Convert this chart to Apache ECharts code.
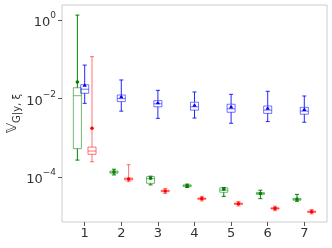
<!DOCTYPE html>
<html><head><meta charset="utf-8">
<script src="https://cdn.jsdelivr.net/npm/echarts@6/dist/echarts.min.js"></script>
<style>html,body{margin:0;padding:0;background:#fff}#c{width:332px;height:248px}</style>
</head><body><div id="c"></div>
<script>
// each row: [low whisker, q1, median, q3, high whisker, mean]
const categories = [1, 2, 3, 4, 5, 6, 7];
const yTicks = [1, 0.01, 0.0001];
const greenStats = [
  [2.7e-4, 5.3e-4, 0.0119, 0.019, 1.36, 0.0266],
  [1.13e-4, 1.25e-4, 1.33e-4, 1.42e-4, 1.58e-4, 1.34e-4],
  [6.3e-5, 6.9e-5, 9.0e-5, 1.02e-4, 1.05e-4, 9.3e-5],
  [5.4e-5, 5.7e-5, 6.0e-5, 6.3e-5, 6.6e-5, 6.0e-5],
  [3.2e-5, 4.07e-5, 4.6e-5, 5.3e-5, 5.4e-5, 4.9e-5],
  [2.8e-5, 3.6e-5, 3.8e-5, 4.0e-5, 4.6e-5, 3.8e-5],
  [2.4e-5, 2.55e-5, 2.7e-5, 2.85e-5, 3.6e-5, 2.7e-5]
];
const blueStats = [
  [0.0076, 0.0137, 0.0174, 0.0227, 0.072, 0.022],
  [0.0048, 0.0084, 0.0100, 0.0124, 0.030, 0.0112],
  [0.00315, 0.0062, 0.0074, 0.0089, 0.0163, 0.0079],
  [0.0032, 0.0051, 0.0062, 0.0081, 0.0148, 0.0068],
  [0.00235, 0.0045, 0.0055, 0.0072, 0.0129, 0.0062],
  [0.0026, 0.0042, 0.0051, 0.0065, 0.0154, 0.0057],
  [0.0025, 0.0040, 0.0048, 0.0060, 0.0117, 0.0053]
];
const redStats = [
  [2.45e-4, 3.8e-4, 4.6e-4, 5.8e-4, 0.118, 1.75e-3],
  [7.6e-5, 8.4e-5, 8.9e-5, 9.4e-5, 2.06e-4, 8.9e-5],
  [3.8e-5, 4.2e-5, 4.4e-5, 4.6e-5, 5.1e-5, 4.4e-5],
  [2.45e-5, 2.7e-5, 2.8e-5, 2.9e-5, 3.2e-5, 2.8e-5],
  [1.82e-5, 2.0e-5, 2.08e-5, 2.16e-5, 2.38e-5, 2.08e-5],
  [1.38e-5, 1.52e-5, 1.58e-5, 1.64e-5, 1.8e-5, 1.58e-5],
  [1.14e-5, 1.25e-5, 1.3e-5, 1.35e-5, 1.48e-5, 1.3e-5]
];

const groups = [
  {name: 'green', stats: greenStats, off: -0.2, color: '#008000', boxOp: 0.55, whOp: 1, marker: 'circle'},
  {name: 'blue', stats: blueStats, off: 0, color: '#0000ff', boxOp: 0.55, whOp: 0.85, marker: 'triangle'},
  {name: 'red', stats: redStats, off: 0.2, color: '#ff0000', boxOp: 0.55, whOp: 0.55, marker: 'circle'}
];
const boxW = 0.22, capW = 0.11;

function makeSeries(g) {
  const data = g.stats.map((s, i) => [categories[i] + g.off].concat(s));
  return {
    type: 'custom', name: g.name, data: data,
    encode: {x: 0, y: [1, 2, 3, 4, 5, 6]},
    renderItem: function (params, api) {
      const x = api.value(0);
      const lo = api.value(1), q1 = api.value(2), med = api.value(3), q3 = api.value(4), hi = api.value(5), mean = api.value(6);
      const pL = api.coord([x - boxW / 2, q1]), pR = api.coord([x + boxW / 2, q3]);
      const cL = api.coord([x - capW / 2, lo])[0], cR = api.coord([x + capW / 2, lo])[0];
      const cx = api.coord([x, q1])[0];
      const yLo = api.coord([x, lo])[1], yHi = api.coord([x, hi])[1];
      const yQ1 = pL[1], yQ3 = pR[1], yMed = api.coord([x, med])[1], yMean = api.coord([x, mean])[1];
      const boxStyle = {stroke: g.color, lineWidth: 1, fill: 'none', opacity: g.boxOp};
      const whStyle = {stroke: g.color, lineWidth: 1, opacity: g.whOp};
      const ch = [
        {type: 'line', shape: {x1: cx, y1: yLo, x2: cx, y2: yQ1}, style: whStyle},
        {type: 'line', shape: {x1: cx, y1: yQ3, x2: cx, y2: yHi}, style: whStyle},
        {type: 'line', shape: {x1: cL, y1: yLo, x2: cR, y2: yLo}, style: whStyle},
        {type: 'line', shape: {x1: cL, y1: yHi, x2: cR, y2: yHi}, style: whStyle},
        {type: 'rect', shape: {x: pL[0], y: yQ3, width: pR[0] - pL[0], height: Math.max(yQ1 - yQ3, 1)}, style: boxStyle},
        {type: 'line', shape: {x1: pL[0], y1: yMed, x2: pR[0], y2: yMed}, style: boxStyle}
      ];
      if (g.marker === 'triangle') {
        ch.push({type: 'polygon', shape: {points: [[cx, yMean - 2.2], [cx - 2.2, yMean + 1.6], [cx + 2.2, yMean + 1.6]]}, style: {fill: g.color}});
      } else {
        ch.push({type: 'circle', shape: {cx: cx, cy: yMean, r: 1.8}, style: {fill: g.color}});
      }
      return {type: 'group', children: ch};
    },
    z: 2
  };
}

const chart = echarts.init(document.getElementById('c'), null, {renderer: 'canvas'});
chart.setOption({
  animation: false,
  grid: {left: 62, right: 5, top: 5, bottom: 26, show: true, borderColor: '#cccccc', borderWidth: 1,
         containLabel: false, outerBoundsMode: 'none'},
  xAxis: {
    type: 'value', min: 0.38, max: 7.62,
    axisLine: {show: false}, splitLine: {show: false},
    axisTick: {show: true, length: 4, lineStyle: {color: '#555'}, customValues: categories},
    axisLabel: {customValues: categories, color: '#333', fontFamily: 'DejaVu Sans', fontSize: 13, margin: 5}
  },
  yAxis: {
    type: 'log', logBase: 10, min: 7.1e-6, max: 2.46,
    axisLine: {show: false}, splitLine: {show: false}, minorTick: {show: false},
    axisTick: {show: true, length: 4, lineStyle: {color: '#555'}, customValues: yTicks},
    axisLabel: {
      customValues: yTicks, margin: 6,
      formatter: function (v) {
        const e = Math.round(Math.log10(v));
        return '{b|10}{s|' + (e === 0 ? '0' : '−' + (-e)) + '}';
      },
      rich: {
        b: {fontFamily: 'DejaVu Sans', fontSize: 13, color: '#333', lineHeight: 18, verticalAlign: 'bottom'},
        s: {fontFamily: 'DejaVu Sans', fontSize: 9, color: '#333', lineHeight: 18, verticalAlign: 'top'}
      }
    },
    name: '{v|𝕍}{s|G|y, ξ}', nameLocation: 'middle', nameRotate: 90, nameGap: 48, nameMoveOverlap: false,
    nameTextStyle: {
      verticalAlign: 'middle',
      rich: {
        v: {fontFamily: 'DejaVu Sans', fontSize: 14, color: '#333', lineHeight: 17, verticalAlign: 'top'},
        s: {fontFamily: 'DejaVu Sans', fontSize: 10, color: '#333', lineHeight: 17, verticalAlign: 'bottom'}
      }
    }
  },
  series: groups.map(makeSeries)
});
</script></body></html>
